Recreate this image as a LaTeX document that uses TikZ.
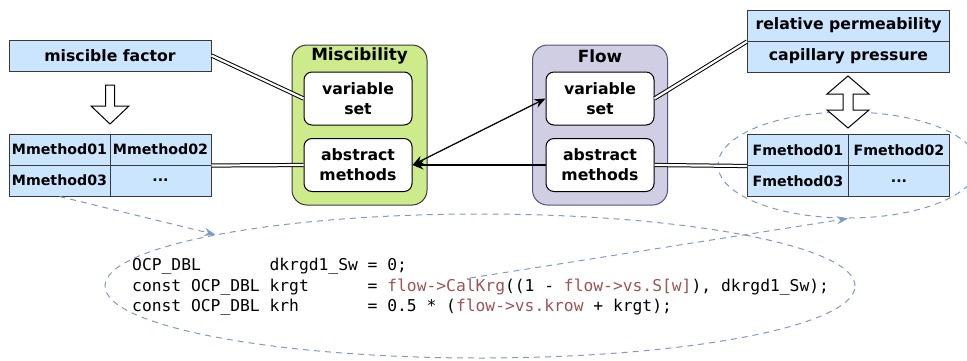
\documentclass[tikz,border=0pt]{standalone}
\usepackage{fontspec}
\setmainfont{DejaVu Sans}
\newfontfamily\codefont{DejaVu Sans Mono}
\usetikzlibrary{shapes.geometric,arrows.meta}

\definecolor{cellblue}{HTML}{CCE5FF}
\definecolor{boxline}{HTML}{36393D}
\definecolor{miscgreen}{HTML}{CDEB8B}
\definecolor{flowfill}{HTML}{D0CEE2}
\definecolor{flowline}{HTML}{56517E}
\definecolor{dashblue}{HTML}{7F9AC4}
\definecolor{codered}{HTML}{9A5555}

\newcommand{\fn}[1]{\textcolor{codered}{#1}}

\tikzset{
  cell/.style={draw=boxline, fill=cellblue, line width=1pt, inner sep=0pt,
    minimum width=101pt, minimum height=31pt,
    font=\fontsize{14.2}{17}\selectfont\bfseries},
  widecell/.style={cell, minimum width=202pt,
    font=\fontsize{15.7}{19}\selectfont\bfseries},
  container/.style={rounded corners=15pt, line width=1pt,
    minimum width=135pt, minimum height=160pt, inner sep=0pt},
  inbox/.style={draw=black, fill=white, rounded corners=8pt, line width=1pt,
    minimum width=108pt, minimum height=53pt, inner sep=0pt, align=center,
    font=\fontsize{15.7}{20}\selectfont\bfseries},
  title/.style={inner sep=0pt, font=\fontsize{16.8}{20}\selectfont\bfseries},
  link/.style={draw=black, line width=1pt, double=white, double distance=2.2pt},
  ref/.style={draw=black, line width=1.2pt},
  hollow/.style={draw=black, fill=white, line width=1pt, line join=miter},
  dashring/.style={draw=dashblue, line width=1pt, dash pattern=on 6pt off 5pt,
    ellipse, inner sep=0pt},
  dasharrow/.style={draw=dashblue, line width=1pt, dash pattern=on 6pt off 5pt,
    -{Stealth[length=11pt,width=8pt,fill=dashblue]}},
}

\begin{document}
\begin{tikzpicture}[x=1pt,y=-1pt]
\useasboundingbox (0,0) rectangle (967,360);

% dashed rings drawn first so boxes sit on top
\node[dashring, minimum width=750pt, minimum height=144pt] (codering) at (480,286) {};
\node[dashring, minimum width=260pt, minimum height=106pt] (fring) at (848,165) {};

% left column: miscible factor and its method table
\node[widecell] (mfac) at (110,55.5) {miscible factor};
\node[cell] (m01) at (59.5,149.5) {Mmethod01};
\node[cell] (m02) at (160.5,149.5) {Mmethod02};
\node[cell] (m03) at (59.5,180.5) {Mmethod03};
\node[cell] (m04) at (160.5,180.5) {...};

% right column: flow properties and their method table
\node[widecell] (relperm) at (848.5,25.5) {relative permeability};
\node[widecell] (cappres) at (848.5,56.5) {capillary pressure};
\node[cell] (f01) at (798,150) {Fmethod01};
\node[cell] (f02) at (899,150) {Fmethod02};
\node[cell] (f03) at (798,181) {Fmethod03};
\node[cell] (f04) at (899,181) {...};

% Miscibility module
\node[container, draw=boxline, fill=miscgreen] (misc) at (359.5,125) {};
\node[title] (misctitle) at (359.5,56) {Miscibility};
\node[inbox] (mvar) at (358,98.5) {variable\\set};
\node[inbox] (mabs) at (358,165) {abstract\\methods};

% Flow module
\node[container, draw=flowline, fill=flowfill] (flow) at (600,125) {};
\node[title] (flowtitle) at (600,56) {Flow};
\node[inbox] (fvar) at (600,98.5) {variable\\set};
\node[inbox] (fabs) at (600,165) {abstract\\methods};

% hollow block arrows
\draw[hollow] (105.5,85) -- (114.5,85) -- (114.5,106) -- (129,106) -- (110,124)
  -- (91,106) -- (105.5,106) -- cycle;
\draw[hollow] (848,76) -- (869,94) -- (853,94) -- (853,110) -- (869,110)
  -- (848,128) -- (827,110) -- (843,110) -- (843,94) -- (827,94) -- cycle;

% double-line links
\draw[link] (mfac.east) -- (mvar.west);
\draw[link] (m02.south east) -- (mabs.west);
\draw[link] (fvar.east) -- (relperm.south west);
\draw[link] (fabs.east) -- (f01.south west);

% references between modules
\draw[ref, -{Stealth[length=11pt,width=9pt]}] (fabs.west) -- (mabs.east);
\draw[ref, {Stealth[length=11pt,width=9pt]}-{Stealth[length=11pt,width=9pt]}]
  (mabs.east) -- (fvar.west);

% code excerpt
\node[inner sep=0pt, anchor=west, align=left,
  font=\codefont\fontsize{16.3}{20.5}\selectfont] (code) at (132,287)
  {OCP\_DBL~~~~~~~dkrgd1\_Sw~=~0;\\
   const~OCP\_DBL~krgt~~~~~~=~\fn{flow->CalKrg}((1~-~\fn{flow->vs.S[w]}),~dkrgd1\_Sw);\\
   const~OCP\_DBL~krh~~~~~~~=~0.5~*~(\fn{flow->vs.krow}~+~krgt);};

% dashed pointers
\coordinate (cstart) at (470,278);
\draw[dasharrow] (m03.south) -- (codering.169);
\draw[dasharrow] (cstart) -- (fring.south);
\end{tikzpicture}
\end{document}
